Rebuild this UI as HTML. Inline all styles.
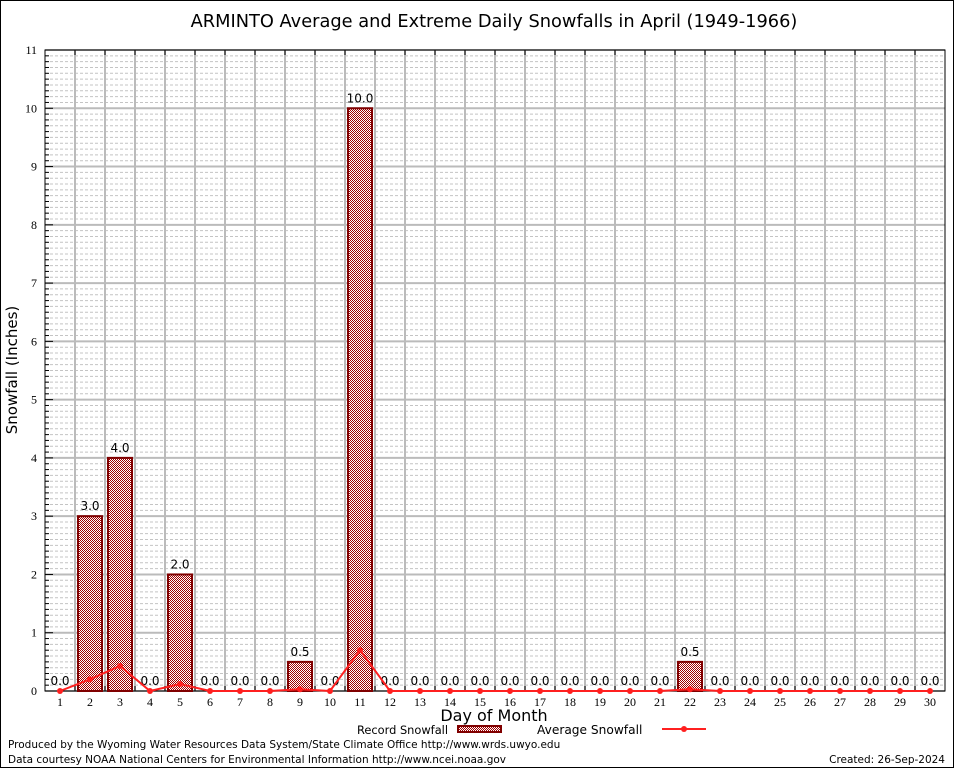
<!DOCTYPE html>
<html><head><meta charset="utf-8"><style>
body{margin:0;background:#fff}
svg{display:block}
.t{font-family:"DejaVu Sans","Liberation Sans",sans-serif}
.s{font-family:"Liberation Serif",serif;font-size:12px}
</style></head><body>
<svg id="c" width="954" height="768" xmlns="http://www.w3.org/2000/svg">
<defs><pattern id="hatch" width="2" height="2" patternUnits="userSpaceOnUse"><rect width="2" height="2" fill="#fff"/><rect width="1" height="1" fill="#a00000"/><rect x="1" y="1" width="1" height="1" fill="#a00000"/></pattern></defs>
<rect x="0.5" y="0.5" width="953" height="767" fill="#fff" stroke="#000"/>
<text class="t" x="494" y="27" font-size="17.8" text-anchor="middle">ARMINTO Average and Extreme Daily Snowfalls in April (1949-1966)</text>
<text class="t" x="17" y="370" font-size="15" text-anchor="middle" transform="rotate(-90 17 370)">Snowfall (Inches)</text>
<text class="t" x="494" y="721" font-size="16" text-anchor="middle">Day of Month</text>
<g>
<text class="t" x="448" y="734" font-size="11.4" text-anchor="end">Record Snowfall</text>
<rect x="458" y="726" width="43" height="6" fill="url(#hatch)" stroke="#800000" stroke-width="2"/>
<text class="t" x="537" y="734" font-size="12.2">Average Snowfall</text>
<line x1="662" y1="729" x2="706" y2="729" stroke="#ff2020" stroke-width="2"/>
<circle cx="684" cy="729" r="3" fill="#ff2020"/>
</g>
<text class="t" x="8" y="748" font-size="10.5">Produced by the Wyoming Water Resources Data System/State Climate Office http://www.wrds.uwyo.edu</text>
<text class="t" x="8" y="763" font-size="10.5">Data courtesy NOAA National Centers for Environmental Information http://www.ncei.noaa.gov</text>
<text class="t" x="945" y="763" font-size="10.5" text-anchor="end">Created: 26-Sep-2024</text>
<g id="plot"></g>
</svg>
<script>
const days=[1,2,3,4,5,6,7,8,9,10,11,12,13,14,15,16,17,18,19,20,21,22,23,24,25,26,27,28,29,30];
const recordVals=[0,3,4,0,2,0,0,0,0.5,0,10,0,0,0,0,0,0,0,0,0,0,0.5,0,0,0,0,0,0,0,0];
const avgVals=[0,0.2,0.43,0,0.12,0,0,0,0.03,0,0.7,0,0,0,0,0,0,0,0,0,0,0.03,0,0,0,0,0,0,0,0];
const yTicks=[0,1,2,3,4,5,6,7,8,9,10,11];
const L=45,R=945,T=50,B=691,yMax=11;
const x=d=>L+(d-0.5)*(R-L)/days.length;
const y=v=>B-v*(B-T)/yMax;
const NS="http://www.w3.org/2000/svg";
const g=document.getElementById('plot');
function mk(t,a){const e=document.createElementNS(NS,t);for(const k in a)e.setAttribute(k,a[k]);g.appendChild(e);return e;}
for(let i=0;i<yMax*10;i++){if(i%10===0)continue;const v=i/10;
 const e=mk('line',{x1:L,x2:R,y1:y(v),y2:y(v),stroke:'#c4c4c4','stroke-dasharray':'3,2','stroke-width':1});
 
 const tk=mk('line',{x1:L,x2:L+4,y1:y(v),y2:y(v),stroke:'#000'});
 }
yTicks.forEach(v=>{const e=mk('line',{x1:L,x2:R,y1:y(v),y2:y(v),stroke:'#bbb','stroke-width':2});
 
 const tk=mk('line',{x1:L,x2:L+8,y1:y(v),y2:y(v),stroke:'#000'});
 
 const t=mk('text',{x:L-8,y:y(v)+4,'text-anchor':'end',class:'s'});t.textContent=v;
 });
for(let i=1;i<days.length;i++){const xx=L+i*(R-L)/days.length;
 const e=mk('line',{x1:xx,x2:xx,y1:T,y2:B,stroke:'#bbb','stroke-width':2});
 
 const tk=mk('line',{x1:xx,x2:xx,y1:T,y2:T+5,stroke:'#000'});
 
 const tb=mk('line',{x1:xx,x2:xx,y1:B,y2:B-5,stroke:'#000'});
 }
const frame=mk('rect',{x:L,y:T,width:R-L,height:B-T,fill:'none',stroke:'#000'});

days.forEach((d,i)=>{const v=recordVals[i];
 if(v>0){const b=mk('rect',{x:x(d)-12,y:y(v),width:24,height:B-y(v),fill:'url(#hatch)',stroke:'#800000','stroke-width':2});
  }
 const t=mk('text',{x:x(d),y:y(v)-6,'text-anchor':'middle',class:'t','font-size':12});t.textContent=v.toFixed(1);
 
 const xl=mk('text',{x:x(d),y:B+15,'text-anchor':'middle',class:'s'});xl.textContent=d;
 });
const pl=mk('polyline',{points:days.map((d,i)=>x(d)+','+y(avgVals[i])).join(' '),fill:'none',stroke:'#ff2020','stroke-width':2});

days.forEach((d,i)=>{const c=mk('circle',{cx:x(d),cy:y(avgVals[i]),r:3,fill:'#ff2020'});
 });
</script>
</body></html>
